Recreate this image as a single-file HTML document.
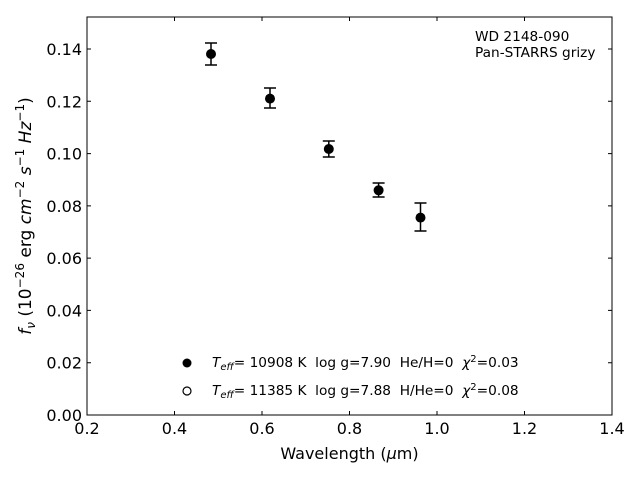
<!DOCTYPE html>
<html><head><style>body{margin:0;background:#fff}svg{display:block}text{font-family:"DejaVu Sans","Liberation Sans",sans-serif;fill:#000;white-space:pre}</style></head><body>
<svg width="640" height="480" viewBox="0 0 640 480" xmlns="http://www.w3.org/2000/svg" xml:space="preserve">
<rect x="87" y="17" width="525" height="398" fill="none" stroke="#000" stroke-width="1"/>
<g stroke="#000" stroke-width="1">
<path d="M87 415v-4M174.5 415v-4M262 415v-4M349.5 415v-4M437 415v-4M524.5 415v-4M612 415v-4M87 17v4M174.5 17v4M262 17v4M349.5 17v4M437 17v4M524.5 17v4M612 17v4"/>
<path d="M87 415h4M87 362.7h4M87 310.4h4M87 258.1h4M87 205.9h4M87 153.6h4M87 101.3h4M87 49h4M612 415h-4M612 362.7h-4M612 310.4h-4M612 258.1h-4M612 205.9h-4M612 153.6h-4M612 101.3h-4M612 49h-4"/>
</g>
<g font-size="16" text-anchor="middle">
<text x="87" y="434">0.2</text><text x="174.5" y="434">0.4</text><text x="262" y="434">0.6</text><text x="349.5" y="434">0.8</text><text x="437" y="434">1.0</text><text x="524.5" y="434">1.2</text><text x="612" y="434">1.4</text>
</g>
<g font-size="16" text-anchor="end">
<text x="82" y="421">0.00</text><text x="82" y="368.7">0.02</text><text x="82" y="316.4">0.04</text><text x="82" y="264.1">0.06</text><text x="82" y="211.9">0.08</text><text x="82" y="159.6">0.10</text><text x="82" y="107.3">0.12</text><text x="82" y="55">0.14</text>
</g>
<text x="349.5" y="459" font-size="16" text-anchor="middle">Wavelength (<tspan font-style="italic">μ</tspan>m)</text>
<text transform="translate(31,216) rotate(-90)" font-size="17" text-anchor="middle"><tspan font-style="italic">f<tspan font-size="12" dy="4">ν</tspan></tspan><tspan dy="-4"> (10</tspan><tspan font-size="12" dy="-7">−26</tspan><tspan dy="7"> erg </tspan><tspan font-style="italic">cm</tspan><tspan font-size="12" dy="-7">−2</tspan><tspan dy="7" font-style="italic"> s</tspan><tspan font-size="12" dy="-7">−1</tspan><tspan dy="7" font-style="italic"> Hz</tspan><tspan font-size="12" dy="-7">−1</tspan><tspan dy="7">)</tspan></text>
<text x="475" y="41" font-size="13.7">WD 2148-090</text>
<text x="475" y="57" font-size="13.7">Pan-STARRS grizy</text>
<g stroke="#000" stroke-width="1.5" fill="none">
<path d="M211 43v22M205 43h12M205 65h12"/>
<path d="M270 88v20M264 88h12M264 108h12"/>
<path d="M328.8 141v16M322.8 141h12M322.8 157h12"/>
<path d="M378.6 183v14M372.6 183h12M372.6 197h12"/>
<path d="M420.5 203v28M414.5 203h12M414.5 231h12"/>
</g>
<g fill="#000">
<circle cx="211" cy="54" r="5"/><circle cx="270" cy="98.6" r="5"/><circle cx="328.8" cy="149" r="5"/><circle cx="378.6" cy="190.3" r="5"/><circle cx="420.5" cy="217.6" r="5"/>
<circle cx="187" cy="363" r="4.5"/>
</g>
<circle cx="187" cy="391" r="4" fill="none" stroke="#000" stroke-width="1.2"/>
<g font-size="13.7">
<text x="212" y="367"><tspan font-style="italic">T<tspan font-size="10" dy="3">eff</tspan></tspan><tspan dy="-3">= 10908 K  log g=7.90  He/H=0  </tspan><tspan font-style="italic">χ</tspan><tspan font-size="10" dy="-5">2</tspan><tspan dy="5">=0.03</tspan></text>
<text x="212" y="395"><tspan font-style="italic">T<tspan font-size="10" dy="3">eff</tspan></tspan><tspan dy="-3">= 11385 K  log g=7.88  H/He=0  </tspan><tspan font-style="italic">χ</tspan><tspan font-size="10" dy="-5">2</tspan><tspan dy="5">=0.08</tspan></text>
</g>
</svg>
</body></html>
